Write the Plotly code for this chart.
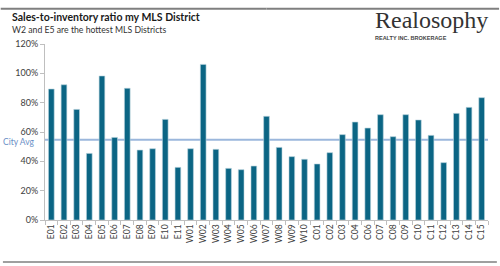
import plotly.graph_objects as go

districts = ["E01","E02","E03","E04","E05","E06","E07","E08","E09","E10","E11",
             "W01","W02","W03","W04","W05","W06","W07","W08","W09","W10",
             "C01","C02","C03","C04","C06","C07","C08","C09","C10","C11","C12","C13","C14","C15"]
ratios = [89.3, 92.2, 75.4, 45.4, 98.2, 56.3, 89.8, 47.7, 48.6, 68.6, 35.9,
          48.6, 106.1, 48.2, 35.2, 34.3, 36.8, 70.7, 49.5, 43.2, 41.4,
          38.2, 45.9, 58.2, 66.8, 62.7, 71.8, 56.8, 71.8, 68.2, 57.7, 39.1, 72.7, 76.8, 83.4]
city_avg = 54.8
y_ticks = [0, 20, 40, 60, 80, 100, 120]

fig = go.Figure()
fig.add_trace(go.Bar(x=districts, y=ratios, marker=dict(color="#0b6584",
                     line=dict(color="#b9d3de", width=0.6)), hoverinfo="x+y"))

fig.add_shape(type="line", xref="paper", yref="y", x0=0, x1=1, y0=city_avg, y1=city_avg,
              line=dict(color="#9bb7dc", width=2), layer="below")
fig.add_annotation(xref="paper", yref="y", x=-0.018, y=city_avg - 1.5, text="City Avg",
                   showarrow=False, xanchor="right", yanchor="middle",
                   font=dict(family="Lato, Liberation Sans", size=8.5, color="#6a8fc6"))

# frame lines
fig.add_shape(type="line", xref="paper", yref="paper", x0=-0.1, x1=0.5, y0=1.20, y1=1.20,
              line=dict(color="#7f7f7f", width=2))
fig.add_shape(type="line", xref="paper", yref="paper", x0=0.5, x1=1.025, y0=1.20, y1=1.20,
              line=dict(color="#7f7f7f", width=2))
fig.add_shape(type="line", xref="paper", yref="paper", x0=-0.095, x1=1.02, y0=-0.2386, y1=-0.2386,
              line=dict(color="#7f7f7f", width=1.5))

fig.add_annotation(xref="paper", yref="paper", x=-0.079, y=1.155, text="<b>Sales-to-inventory ratio my MLS District</b>",
                   showarrow=False, xanchor="left", yanchor="middle",
                   font=dict(family="Lato, Liberation Sans", size=10.5, color="#1a1a1a"))
fig.add_annotation(xref="paper", yref="paper", x=-0.079, y=1.08, text="W2 and E5 are the hottest MLS Districts",
                   showarrow=False, xanchor="left", yanchor="middle",
                   font=dict(family="Lato, Liberation Sans", size=8.7, color="#333333"))
fig.add_annotation(xref="paper", yref="paper", x=0.74, y=1.135, text="Realosophy",
                   showarrow=False, xanchor="left", yanchor="middle",
                   font=dict(family="Liberation Serif, serif", size=24, color="#333333"))
fig.add_annotation(xref="paper", yref="paper", x=0.741, y=1.035, text="<b>REALTY INC. BROKERAGE</b>",
                   showarrow=False, xanchor="left", yanchor="middle",
                   font=dict(family="Liberation Sans", size=5.5, color="#444444"))

fig.update_layout(
    width=500, height=266,
    margin=dict(l=45, r=12, t=44, b=46),
    paper_bgcolor="white", plot_bgcolor="white",
    bargap=0.55, showlegend=False,
    font=dict(family="Lato, Liberation Sans", color="#404040"),
)
fig.update_yaxes(range=[0, 120], tickvals=y_ticks, ticktext=[f"{v}%" for v in y_ticks],
                 showgrid=False, showline=True, linecolor="#bfbfbf", linewidth=1,
                 ticks="outside", ticklen=4, tickcolor="#bfbfbf", tickfont=dict(size=9, color="#404040"),
                 zeroline=False)
fig.update_xaxes(showgrid=False, showline=True, linecolor="#bfbfbf", linewidth=1,
                 ticks="outside", ticklen=4, tickcolor="#bfbfbf", tickson="boundaries",
                 tickangle=-90, tickfont=dict(size=8.5, color="#404040"), range=[-0.5, 34.5])

fig.write_html("out.html")
